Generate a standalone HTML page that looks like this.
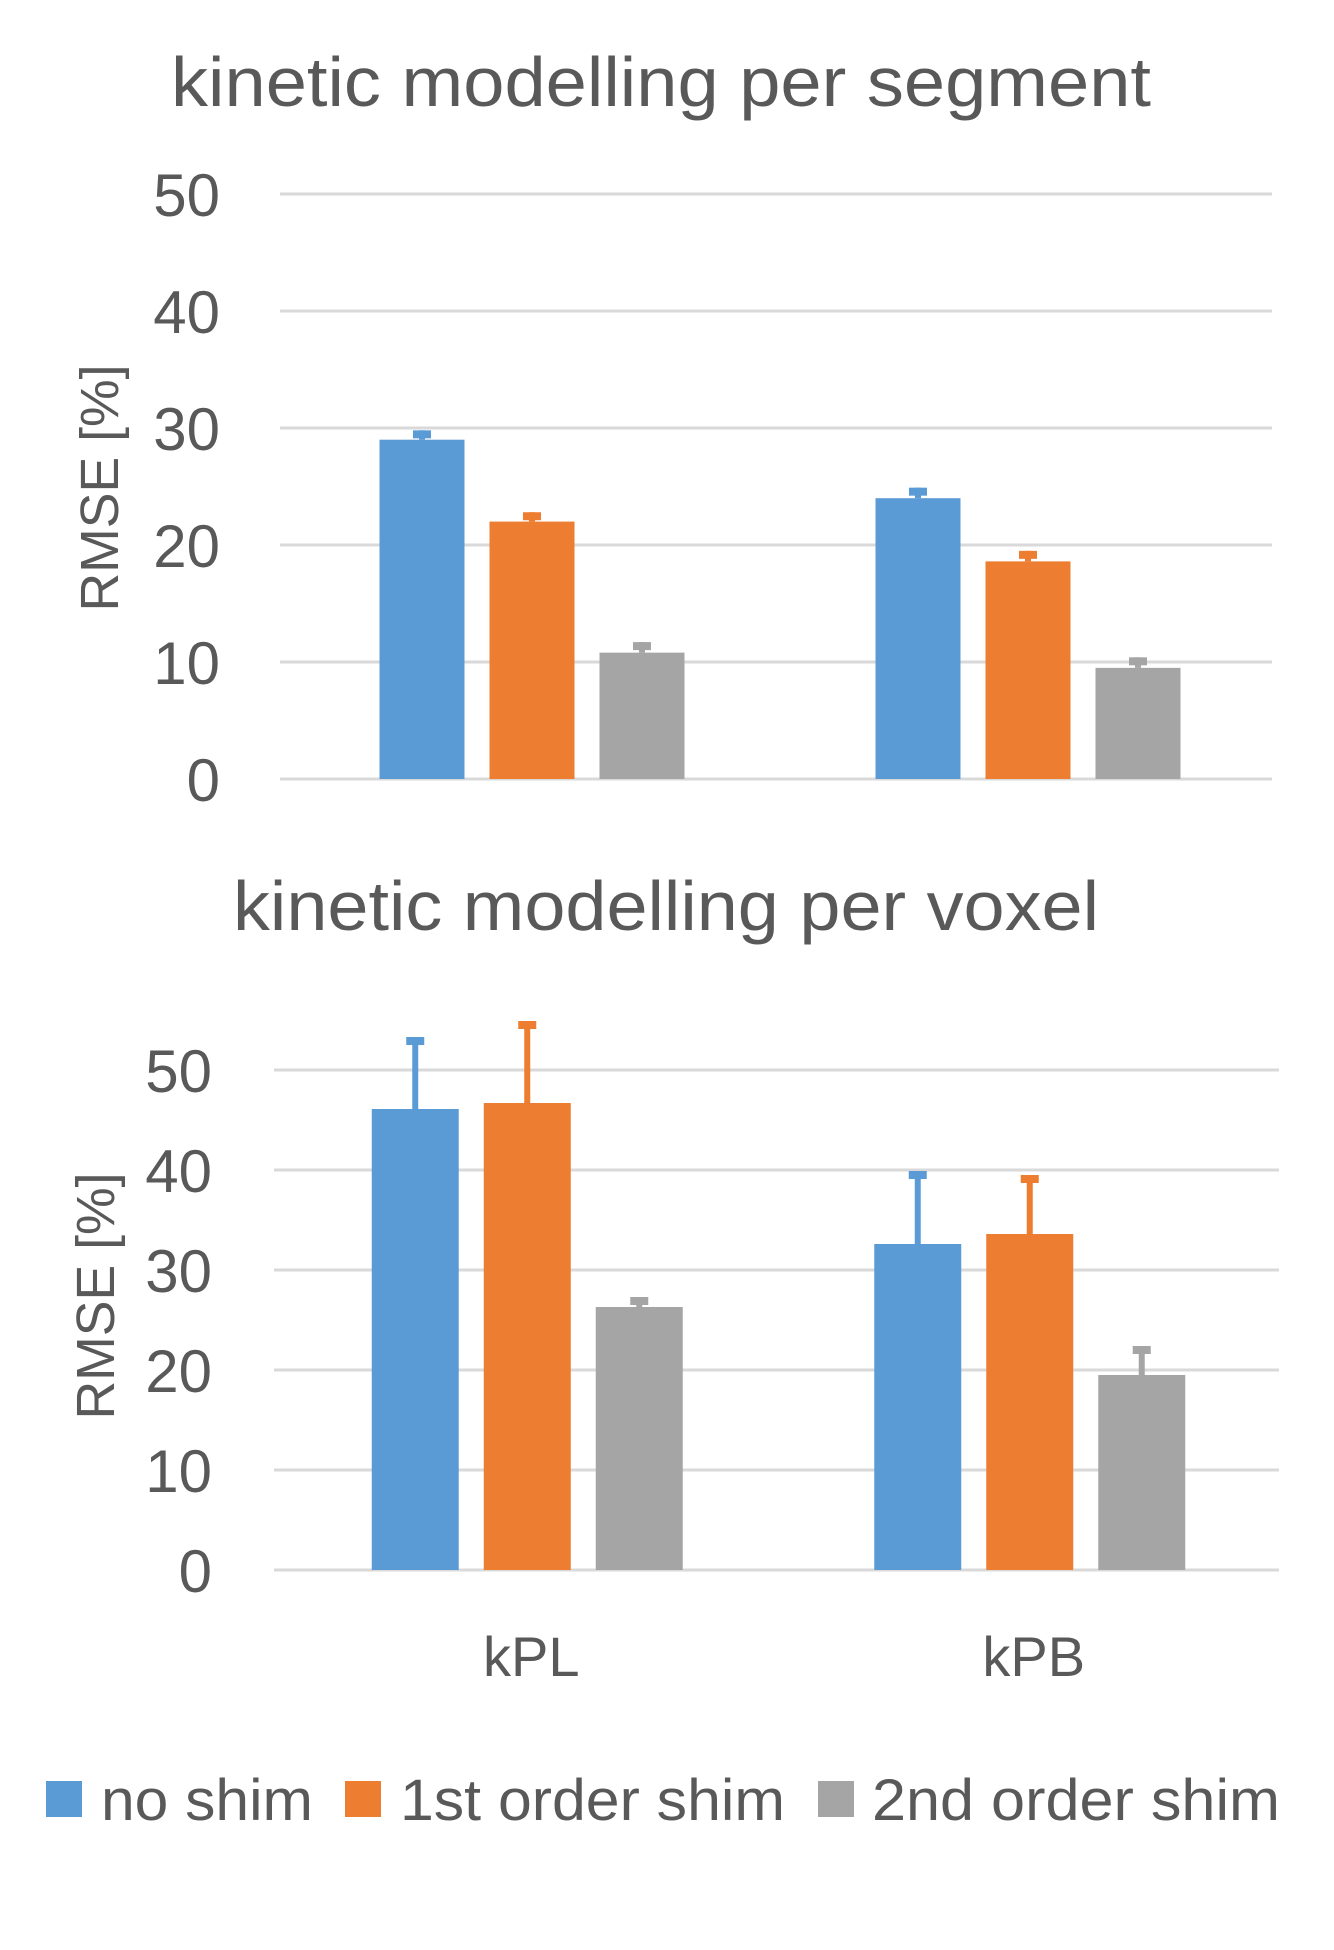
<!DOCTYPE html>
<html><head><meta charset="utf-8"><style>
html,body{margin:0;padding:0;background:#fff;}
svg{display:block;font-family:"Liberation Sans",sans-serif;}
</style></head><body>
<svg id="chart" width="1334" height="1950" viewBox="0 0 1334 1950">
<text x="661" y="106" text-anchor="middle" font-size="70" textLength="980" lengthAdjust="spacingAndGlyphs" fill="#595959">kinetic modelling per segment</text>
<text x="666" y="930" text-anchor="middle" font-size="70" textLength="866" lengthAdjust="spacingAndGlyphs" fill="#595959">kinetic modelling per voxel</text>
<g id="top"></g>
<g id="bot"></g>
<text transform="translate(118,488) rotate(-90)" text-anchor="middle" font-size="54" textLength="247" lengthAdjust="spacingAndGlyphs" fill="#595959">RMSE [%]</text>
<text transform="translate(114,1296) rotate(-90)" text-anchor="middle" font-size="54" textLength="247" lengthAdjust="spacingAndGlyphs" fill="#595959">RMSE [%]</text>
<g>
<rect x="46" y="1781" width="36" height="36" fill="#5B9BD5"/>
<text x="101" y="1820" font-size="58" textLength="212" lengthAdjust="spacingAndGlyphs" fill="#595959">no shim</text>
<rect x="345" y="1781" width="36" height="36" fill="#ED7D31"/>
<text x="400" y="1820" font-size="58" textLength="385" lengthAdjust="spacingAndGlyphs" fill="#595959">1st order shim</text>
<rect x="818" y="1781" width="36" height="36" fill="#A5A5A5"/>
<text x="872" y="1820" font-size="58" textLength="408" lengthAdjust="spacingAndGlyphs" fill="#595959">2nd order shim</text>
</g>
</svg>
<script>
const categories = ["kPL", "kPB"];
const seriesNames = ["no shim", "1st order shim", "2nd order shim"];
const segValues = [[29, 24], [22, 18.6], [10.8, 9.5]];
const segErrors = [[29.8, 24.9], [22.8, 19.5], [11.7, 10.4]];
const voxValues = [[46.1, 32.6], [46.7, 33.6], [26.3, 19.5]];
const voxErrors = [[53.3, 39.9], [54.9, 39.5], [27.3, 22.4]];
const yTicks = [0, 10, 20, 30, 40, 50];
const colors = ["#5B9BD5", "#ED7D31", "#A5A5A5"];
const NS = "http://www.w3.org/2000/svg";
function mk(tag, attrs, parent) {
  const e = document.createElementNS(NS, tag);
  for (const k in attrs) e.setAttribute(k, attrs[k]);
  parent.appendChild(e);
  return e;
}
function draw(gid, cfg, values, errors, showCats) {
  const g = document.getElementById(gid);
  const y = v => cfg.y0 - (cfg.y0 - cfg.y50) * v / 50;
  yTicks.forEach(t => {
    const l = mk("line", {x1: cfg.gx1, x2: cfg.gx2, y1: y(t), y2: y(t), stroke: "#D9D9D9", "stroke-width": 3}, g);
    
    
    const tx = mk("text", {x: cfg.tickX, y: y(t) + 22, "text-anchor": "end", "font-size": 60, fill: "#595959"}, g);
    tx.textContent = t;
    
    
  });
  const groupW = (cfg.gx2 - cfg.gx1) / categories.length;
  categories.forEach((c, ci) => {
    const center = cfg.gx1 + groupW * (ci + 0.5) + cfg.shift;
    values.forEach((ser, si) => {
      const x = center + (si - 1) * cfg.step - cfg.bw / 2;
      const v = ser[ci], e = errors[si][ci];
      const r = mk("rect", {x: x, y: y(v), width: cfg.bw, height: y(0) - y(v), fill: colors[si]}, g);
      
      
      const cx = x + cfg.bw / 2;
      const el = mk("line", {x1: cx, x2: cx, y1: y(v), y2: y(e), stroke: colors[si], "stroke-width": 6}, g);
      
      
      const cap = mk("rect", {x: cx - 9, y: y(e), width: 18, height: 8, fill: colors[si]}, g);
      
      
    });
    if (showCats) {
      const t = mk("text", {x: center + 4, y: 1676, "text-anchor": "middle", "font-size": 56, fill: "#595959"}, g);
      t.textContent = c;
      
      
    }
  });
}
draw("top", {y0: 779, y50: 194, gx1: 280, gx2: 1272, tickX: 220, bw: 85, step: 110, shift: 4}, segValues, segErrors, false);
draw("bot", {y0: 1570, y50: 1070, gx1: 274, gx2: 1279, tickX: 212, bw: 87, step: 112, shift: 2}, voxValues, voxErrors, true);
</script>
</body></html>
